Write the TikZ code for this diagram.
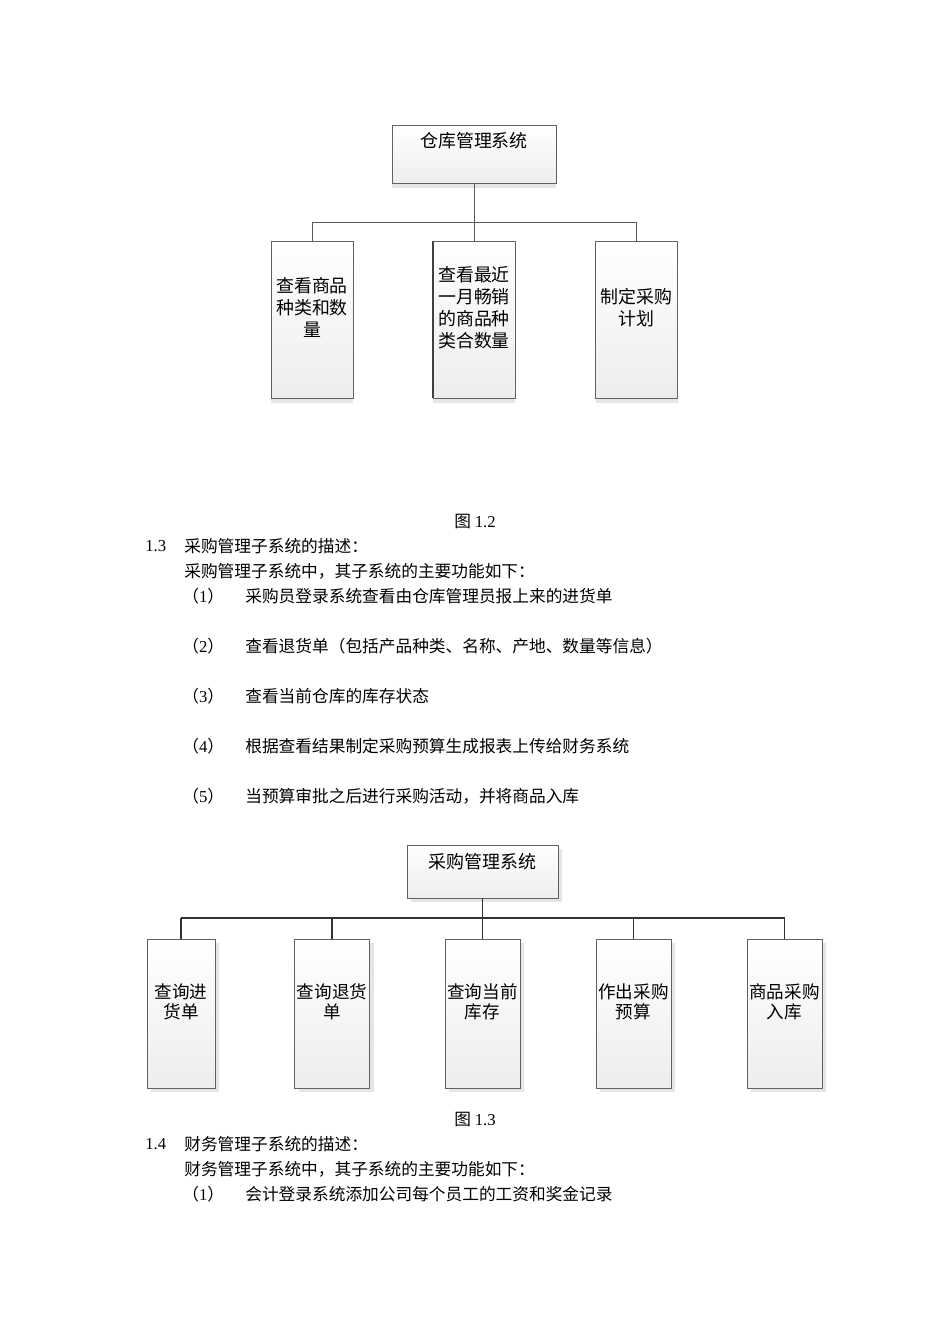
\documentclass[tikz,border=0pt]{standalone}
\usepackage{fontspec}
\setmainfont{Liberation Serif}
\newfontfamily\cjk{Noto Sans CJK SC}
\usetikzlibrary{shadows}
\newlength\upx
\setlength\upx{0.02cm}
\newcommand\rmn[1]{{\rmfamily #1}}
\tikzset{
	box/.style={draw=black!62, line width=0.5pt, top color=white, bottom color=black!7, inner sep=0pt},
	boxtext/.style={align=center, inner sep=0pt, font=\cjk\fontsize{10.2}{12.6}\selectfont},
	txt/.style={anchor=west, inner sep=0pt, font=\cjk\fontsize{9.5}{11}\selectfont},
	figcap/.style={inner sep=0pt, font=\cjk\fontsize{9.5}{11}\selectfont},
}
\begin{document}
\begin{tikzpicture}[x=0.02cm, y=-0.02cm]
			\useasboundingbox (0,0) rectangle (950,1344);
			% first tree
			\node[box, minimum width=164\upx, minimum height=58\upx,
				drop shadow={shadow xshift=0pt, shadow yshift=-5\upx, fill=black!10, opacity=1},
				label={[boxtext, yshift=13\upx]center:仓库管理系统}] (r1) at (474,154) {};
			\coordinate (bar1) at (0,222);
			\foreach \x/\n/\t in {312/k1/{查看商品\\种类和数\\量}, 474/k2/{查看最近\\一月畅销\\的商品种\\类合数量}, 636.5/k3/{制定采购\\计划}} {
				\node[box, minimum width=82\upx, minimum height=157\upx,
					drop shadow={shadow xshift=0pt, shadow yshift=-5\upx, fill=black!10, opacity=1},
					label={[boxtext, yshift=12\upx]center:\t}] (\n) at (\x,319.5) {};
			}
			\draw[line width=1.1pt, black!75] (k2.north west) -- (k2.south west);
			\draw[black!65, line width=0.55pt] (r1.south) -- (r1.south |- bar1);
			\draw[black!65, line width=0.55pt] (k1.north) -- (k1.north |- bar1) -- (k3.north |- bar1) -- (k3.north);
			\draw[black!65, line width=0.55pt] (k2.north |- bar1) -- (k2.north);
			\node[figcap] (f12) at (475,522) {图 \rmn{1.2}};
			% text of 1.3
			\node[txt] (s13n) at (145,546) {\rmn{1.3}};
			\node[txt] (s13) at (184,546) {采购管理子系统的描述：};
			\node[txt] (s13a) at (184,571) {采购管理子系统中，其子系统的主要功能如下：};
			\foreach \y/\n/\t in {596/1/采购员登录系统查看由仓库管理员报上来的进货单, 646/2/查看退货单（包括产品种类、名称、产地、数量等信息）, 696/3/查看当前仓库的库存状态, 746/4/根据查看结果制定采购预算生成报表上传给财务系统, 796/5/当预算审批之后进行采购活动，并将商品入库} {
				\node[txt] (p\n) at (182,\y) {（\rmn{\n}）};
				\node[txt] (i\n) at (245,\y) {\t};
			}
			% second tree
			\node[box, minimum width=151\upx, minimum height=53\upx,
				drop shadow={shadow xshift=4\upx, shadow yshift=-4\upx, fill=black!10, opacity=1},
				label={[boxtext, yshift=10\upx]center:采购管理系统}] (r2) at (482.5,871.5) {};
			\coordinate (bar2) at (0,918);
			\foreach \x/\w/\n/\t in {181/68/q1/{查询进\\货单}, 332/75/q2/{查询退货\\单}, 482.5/75/q3/{查询当前\\库存}, 633.5/75/q4/{作出采购\\预算}, 784.5/75/q5/{商品采购\\入库}} {
				\node[box, minimum width=\w\upx, minimum height=149\upx,
					drop shadow={shadow xshift=4\upx, shadow yshift=-4\upx, fill=black!10, opacity=1},
					label={[boxtext, font=\cjk\fontsize{10}{11.4}\selectfont, yshift=12\upx]center:\t}] (\n) at (\x,1013.5) {};
				\draw[black!80, line width=1.1pt] (\n.north |- bar2) -- (\n.north);
			}
			\draw[black!80, line width=1.1pt] (r2.south) -- (r2.south |- bar2);
			\draw[black!80, line width=1.1pt] (q1.north |- bar2) -- (q5.north |- bar2);
			\node[figcap] (f13) at (475,1120) {图 \rmn{1.3}};
			% text of 1.4
			\node[txt] (s14n) at (145,1144) {\rmn{1.4}};
			\node[txt] (s14) at (184,1144) {财务管理子系统的描述：};
			\node[txt] (s14a) at (184,1169) {财务管理子系统中，其子系统的主要功能如下：};
			\node[txt] (q1n) at (182,1194) {（\rmn{1}）};
			\node[txt] (q1t) at (245,1194) {会计登录系统添加公司每个员工的工资和奖金记录};
		\end{tikzpicture}
\end{document}
